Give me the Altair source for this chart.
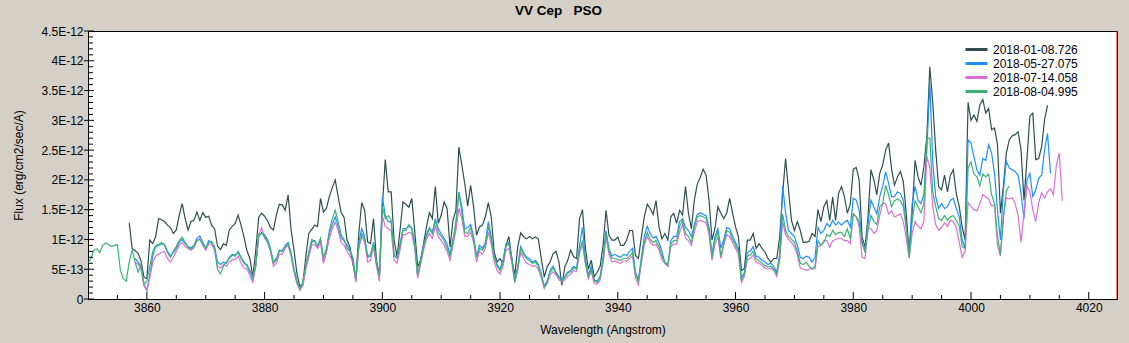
import altair as alt
import pandas as pd

# ---------------- data (flux in units of 1E-12 erg/cm2/sec/A) ----------------
SERIES = ["2018-01-08.726", "2018-05-27.075", "2018-07-14.058", "2018-08-04.995"]
COLORS = ["#2f4f4f", "#1e90ff", "#da70d6", "#3cb371"]

ROW_START = 3850.0   # first row starts here (Angstrom)
ROW_SPAN = 5.0       # each row covers 5 Angstrom
STEP = 0.5           # sampling step inside a row
N = None

DARK = [
    [N, N, N, N, N, N, N, N, N, N],
    [N, N, N, N, 1.28, 0.85, 0.81, 0.77, 0.64, 0.37],
    [0.34, 0.99, 0.93, 1.05, 1.35, 1.33, 1.30, 1.24, 1.20, 1.10],
    [1.16, 1.41, 1.60, 1.35, 1.16, 1.30, 1.32, 1.46, 1.32, 1.45],
    [1.37, 1.39, 1.24, 1.18, 0.89, 0.83, 0.93, 0.90, 1.16, 1.22],
    [1.27, 1.41, 1.24, 1.04, 0.81, 0.68, 0.37, 0.82, 1.37, 1.44],
    [1.39, 1.31, 1.20, 1.16, 1.41, 1.59, 1.58, 1.49, 1.75, 1.16],
    [0.82, 0.42, 0.21, 0.26, 0.71, 1.10, 1.17, 1.24, 1.22, 1.69],
    [1.46, 1.52, 1.72, 1.87, 2.00, 1.72, 1.45, 1.37, 0.99, 0.87],
    [0.59, 0.32, 1.10, 1.62, 1.49, 0.96, 0.93, 1.35, 0.65, 0.40],
    [1.55, 2.34, 1.80, 1.80, 0.99, 0.71, 1.15, 1.63, 1.59, 1.54],
    [1.69, 1.15, 0.54, 0.65, 0.93, 1.21, 1.45, 1.35, 1.89, 1.27],
    [1.41, 1.63, 1.52, 0.87, 1.32, 1.49, 2.55, 2.25, 1.94, 1.56],
    [1.91, 1.55, 1.07, 1.21, 1.24, 1.38, 1.62, 1.38, 0.79, 0.62],
    [0.68, 0.59, 0.90, 1.05, 0.65, 0.40, 0.87, 1.11, 1.05, 1.01],
    [1.05, 1.01, 1.04, 1.01, 0.68, 0.37, 0.54, 0.62, 0.76, 0.80],
    [0.62, 0.23, 0.54, 0.65, 0.82, 0.71, 0.68, 1.35, 1.50, 0.85],
    [0.50, 0.65, 0.37, 0.45, 0.55, 0.90, 1.49, 1.07, 0.99, 0.99],
    [1.04, 0.90, 0.90, 0.99, 1.15, 1.15, 0.73, 0.68, 1.04, 1.38],
    [1.59, 1.52, 1.42, 1.65, 1.21, 1.01, 1.10, 0.99, 1.38, 1.44],
    [1.27, 1.49, 1.41, 1.89, 1.44, 1.18, 1.66, 1.93, 2.04, 2.18],
    [2.08, 1.66, 0.99, 1.18, 1.55, 1.44, 1.35, 1.44, 1.69, 1.44],
    [1.21, 1.04, 0.48, 0.51, 0.99, 0.99, 1.10, 0.85, 0.93, 0.85],
    [0.79, 0.68, 0.62, 0.68, 0.68, 1.04, 1.77, 2.36, 1.83, 1.32],
    [1.15, 1.30, 1.15, 0.95, 0.95, 0.97, 1.10, 1.05, 1.50, 1.30],
    [1.55, 1.65, 1.32, 1.71, 1.32, 1.77, 1.89, 1.72, 1.44, 1.60],
    [2.18, 2.21, 2.00, 1.04, 0.87, 1.38, 2.17, 2.00, 1.75, 2.11],
    [2.25, 2.50, 2.62, 2.19, 1.91, 2.05, 2.14, 1.97, 1.44, 0.76],
    [1.44, 2.33, 2.05, 1.91, 2.22, 2.73, 3.90, 3.30, 2.50, 1.89],
    [1.83, 2.08, 1.80, 2.08, 2.17, 1.77, 1.55, 1.21, 0.99, 3.30],
    [3.00, 3.09, 2.98, 3.26, 3.35, 3.12, 3.20, 2.84, 2.87, 2.59],
    [1.44, 1.89, 2.45, 2.67, 2.74, 2.76, 2.81, 2.50, 1.66, 2.34],
    [3.07, 3.12, 2.34, 2.36, 2.56, 3.01, 3.25],
]

BLUE = [
    [N, N, N, N, N, N, N, N, N, N],
    [N, N, N, N, N, N, 0.68, 0.62, 0.55, 0.25],
    [0.14, 0.40, 0.72, 0.88, 0.90, 0.93, 0.92, 0.80, 0.72, 0.78],
    [0.85, 0.95, 1.00, 0.93, 0.88, 0.86, 0.90, 1.02, 1.06, 0.95],
    [0.85, 0.98, 0.95, 0.88, 0.62, 0.58, 0.62, 0.60, 0.70, 0.75],
    [0.72, 0.80, 0.70, 0.62, 0.55, 0.45, 0.32, 0.55, 1.05, 1.12],
    [1.08, 1.00, 0.85, 0.62, 0.68, 0.82, 0.80, 0.90, 0.95, 0.78],
    [0.50, 0.30, 0.15, 0.25, 0.55, 0.75, 0.95, 0.98, 0.88, 1.00],
    [0.62, 0.80, 1.10, 1.25, 1.38, 1.22, 1.02, 0.98, 0.90, 0.82],
    [0.68, 0.30, 0.95, 1.18, 1.05, 0.70, 0.72, 0.95, 0.62, 0.35],
    [1.72, 1.40, 1.30, 1.30, 0.75, 0.68, 0.90, 1.18, 1.18, 1.22],
    [1.20, 0.95, 0.38, 0.65, 0.90, 1.08, 1.20, 1.12, 1.35, 1.18],
    [1.10, 1.02, 0.92, 0.75, 1.00, 1.25, 1.80, 1.55, 1.18, 1.20],
    [1.25, 1.05, 0.72, 0.90, 0.85, 0.95, 1.30, 1.05, 0.72, 0.58],
    [0.50, 0.65, 0.92, 0.95, 0.70, 0.30, 0.55, 0.88, 0.78, 0.70],
    [0.68, 0.62, 0.65, 0.58, 0.42, 0.22, 0.30, 0.48, 0.55, 0.45],
    [0.38, 0.32, 0.38, 0.45, 0.48, 0.55, 0.52, 0.90, 1.20, 0.68],
    [0.40, 0.55, 0.32, 0.30, 0.38, 0.70, 1.15, 0.85, 0.72, 0.75],
    [0.72, 0.70, 0.75, 0.73, 0.80, 0.85, 0.45, 0.32, 0.70, 1.05],
    [1.22, 1.10, 1.02, 1.05, 0.95, 0.80, 0.60, 0.55, 0.98, 1.05],
    [1.05, 1.30, 1.35, 1.20, 1.15, 1.05, 1.25, 1.42, 1.45, 1.42],
    [1.40, 1.20, 0.75, 1.05, 1.18, 0.85, 1.00, 1.20, 1.18, 1.05],
    [0.95, 0.85, 0.35, 0.45, 0.78, 0.80, 0.88, 0.72, 0.70, 0.65],
    [0.62, 0.58, 0.60, 0.55, 0.45, 0.75, 1.90, 1.45, 1.15, 1.10],
    [1.05, 0.90, 0.70, 0.68, 0.72, 0.70, 0.62, 0.70, 1.20, 1.10],
    [1.15, 1.27, 1.21, 1.32, 1.24, 1.29, 1.24, 1.29, 1.32, 1.21],
    [1.69, 1.66, 1.49, 0.93, 0.82, 1.27, 1.66, 1.55, 1.43, 1.72],
    [1.89, 2.14, 1.94, 1.72, 1.72, 1.80, 1.77, 1.66, 1.21, 0.82],
    [1.60, 1.89, 1.66, 1.60, 1.77, 2.50, 3.65, 2.30, 1.72, 1.52],
    [1.60, 1.52, 1.55, 1.66, 1.69, 1.52, 1.38, 0.99, 0.85, 2.67],
    [2.62, 2.39, 2.17, 2.08, 2.36, 2.33, 2.59, 2.45, 2.11, 1.49],
    [0.99, 1.83, 2.31, 2.20, 2.17, 2.14, 2.08, 1.77, 1.35, 2.00],
    [2.11, 1.72, 1.83, 2.03, 2.08, 2.50, 2.78, 2.11],
]

PINK = [
    [N, N, N, N, N, N, N, N, N, N],
    [N, N, N, N, N, N, 0.62, 0.58, 0.50, 0.22],
    [0.15, 0.35, 0.62, 0.72, 0.75, 0.78, 0.80, 0.68, 0.62, 0.70],
    [0.80, 0.90, 0.95, 0.88, 0.85, 0.82, 0.86, 0.98, 1.02, 0.90],
    [0.82, 0.92, 0.92, 0.82, 0.55, 0.52, 0.58, 0.55, 0.62, 0.66],
    [0.66, 0.72, 0.60, 0.52, 0.50, 0.40, 0.28, 0.55, 1.08, 1.20],
    [1.02, 0.95, 0.80, 0.55, 0.60, 0.75, 0.75, 0.85, 0.90, 0.72],
    [0.45, 0.25, 0.16, 0.22, 0.50, 0.70, 0.90, 0.92, 0.85, 0.95],
    [0.60, 0.78, 1.02, 1.18, 1.29, 1.15, 0.95, 0.90, 0.80, 0.72],
    [0.62, 0.28, 0.85, 1.05, 0.95, 0.62, 0.65, 0.88, 0.55, 0.30],
    [1.40, 1.22, 1.18, 1.15, 0.65, 0.60, 0.82, 1.08, 1.08, 1.12],
    [1.10, 0.85, 0.35, 0.58, 0.82, 1.00, 1.10, 1.02, 1.22, 1.05],
    [0.98, 0.90, 0.80, 0.65, 0.90, 1.15, 1.52, 1.35, 1.05, 1.05],
    [1.12, 0.95, 0.62, 0.80, 0.75, 0.85, 1.12, 0.92, 0.62, 0.48],
    [0.42, 0.55, 0.82, 0.85, 0.60, 0.28, 0.48, 0.78, 0.68, 0.60],
    [0.58, 0.55, 0.56, 0.50, 0.36, 0.18, 0.26, 0.40, 0.46, 0.40],
    [0.32, 0.28, 0.32, 0.38, 0.42, 0.48, 0.46, 0.78, 0.92, 0.58],
    [0.34, 0.46, 0.26, 0.25, 0.32, 0.60, 1.05, 0.75, 0.62, 0.64],
    [0.62, 0.60, 0.64, 0.64, 0.68, 0.72, 0.36, 0.24, 0.60, 0.90],
    [1.05, 0.95, 0.90, 0.92, 0.82, 0.66, 0.60, 0.55, 0.88, 0.92],
    [0.92, 1.12, 1.25, 1.02, 0.98, 0.90, 1.12, 1.30, 1.32, 1.30],
    [1.28, 1.08, 0.65, 0.92, 1.05, 0.68, 0.90, 1.08, 1.05, 0.95],
    [0.85, 0.75, 0.28, 0.38, 0.66, 0.68, 0.74, 0.62, 0.60, 0.56],
    [0.52, 0.50, 0.52, 0.48, 0.38, 0.65, 1.30, 1.08, 1.00, 0.95],
    [0.88, 0.74, 0.52, 0.50, 0.48, 0.50, 0.52, 0.50, 0.88, 0.90],
    [0.98, 0.98, 0.87, 0.98, 1.00, 1.02, 1.02, 0.98, 0.98, 0.93],
    [1.43, 1.38, 1.22, 0.70, 0.68, 1.20, 1.18, 1.10, 1.15, 1.40],
    [1.60, 1.60, 1.43, 1.48, 1.38, 1.40, 1.43, 1.30, 1.02, 0.68],
    [1.10, 1.30, 1.22, 1.18, 1.30, 2.40, 2.20, 1.55, 1.25, 1.15],
    [1.20, 1.28, 1.22, 1.32, 1.30, 1.20, 0.95, 0.70, 0.80, 1.62],
    [1.55, 1.50, 1.48, 1.60, 1.75, 1.72, 1.68, 1.56, 1.58, 0.90],
    [0.72, 1.40, 1.70, 1.68, 1.70, 1.60, 1.40, 0.95, 1.45, 1.90],
    [1.80, 1.50, 1.30, 1.62, 1.78, 1.70, 1.80, 1.85, 1.75, 2.25],
    [2.45, 1.65],
]

GREEN = [
    [0.60, 0.68, 0.82, 0.84, 0.78, 0.90, 0.94, 0.91, 0.88, 0.90],
    [0.91, 0.48, 0.34, 0.30, 0.62, 0.83, 0.62, 0.45, 0.58, 0.25],
    [0.30, 0.55, 0.80, 0.90, 0.92, 0.95, 0.90, 0.78, 0.70, 0.80],
    [0.88, 0.98, 1.04, 0.95, 0.87, 0.84, 0.88, 0.98, 1.00, 0.92],
    [0.85, 0.95, 0.97, 0.85, 0.50, 0.42, 0.55, 0.62, 0.68, 0.73],
    [0.74, 0.78, 0.68, 0.60, 0.58, 0.48, 0.38, 0.58, 1.08, 1.10],
    [1.05, 0.95, 0.82, 0.60, 0.65, 0.80, 0.82, 0.88, 0.92, 0.75],
    [0.48, 0.28, 0.18, 0.28, 0.58, 0.78, 1.00, 0.97, 0.90, 1.02],
    [0.70, 0.85, 1.15, 1.35, 1.49, 1.30, 1.08, 1.00, 0.85, 0.80],
    [0.70, 0.35, 0.88, 1.10, 1.00, 0.72, 0.75, 0.92, 0.60, 0.38],
    [1.55, 1.35, 1.40, 1.32, 0.72, 0.70, 0.92, 1.15, 1.15, 1.25],
    [1.18, 0.90, 0.40, 0.62, 0.88, 1.05, 1.18, 1.10, 1.32, 1.12],
    [1.05, 0.98, 0.85, 0.72, 0.95, 1.30, 1.78, 1.45, 1.12, 1.10],
    [1.20, 1.00, 0.70, 0.85, 0.82, 0.90, 1.22, 1.00, 0.70, 0.55],
    [0.48, 0.62, 0.90, 0.92, 0.68, 0.28, 0.52, 0.85, 0.74, 0.68],
    [0.64, 0.60, 0.62, 0.55, 0.40, 0.20, 0.28, 0.45, 0.52, 0.43],
    [0.36, 0.30, 0.36, 0.43, 0.46, 0.52, 0.50, 0.80, 0.98, 0.62],
    [0.38, 0.50, 0.30, 0.28, 0.36, 0.65, 1.10, 0.80, 0.68, 0.68],
    [0.66, 0.65, 0.68, 0.68, 0.72, 0.78, 0.42, 0.30, 0.65, 0.95],
    [1.12, 1.00, 0.95, 0.98, 0.88, 0.72, 0.62, 0.58, 0.92, 0.98],
    [0.98, 1.22, 1.32, 1.10, 1.05, 0.95, 1.20, 1.38, 1.40, 1.38],
    [1.35, 1.15, 0.70, 1.00, 1.12, 0.72, 0.95, 1.15, 1.12, 1.00],
    [0.90, 0.80, 0.32, 0.42, 0.72, 0.74, 0.80, 0.68, 0.64, 0.60],
    [0.56, 0.54, 0.55, 0.50, 0.42, 0.70, 1.43, 1.15, 1.05, 1.00],
    [0.95, 0.80, 0.60, 0.58, 0.62, 0.55, 0.50, 0.55, 0.98, 0.90],
    [0.95, 1.08, 1.05, 1.15, 1.08, 1.12, 1.12, 1.05, 1.18, 1.00],
    [1.43, 1.38, 1.30, 0.95, 0.78, 1.15, 1.40, 1.30, 1.25, 1.55],
    [1.60, 1.91, 1.75, 1.55, 1.65, 1.68, 1.65, 1.55, 1.20, 0.70],
    [1.30, 1.65, 1.55, 1.45, 1.60, 2.70, 2.70, 1.80, 1.55, 1.35],
    [1.32, 1.40, 1.32, 1.38, 1.40, 1.32, 1.22, 0.88, 0.85, 2.20],
    [2.30, 2.10, 2.05, 1.90, 2.10, 2.05, 2.10, 1.75, 1.60, 1.05],
    [0.75, 1.35, 1.82, 1.90],
]

X_MAJOR = [3860, 3880, 3900, 3920, 3940, 3960, 3980, 4000, 4020]
X_MINOR = [3855, 3865, 3870, 3875, 3885, 3890, 3895, 3905, 3910, 3915, 3925, 3930,
           3935, 3945, 3950, 3955, 3965, 3970, 3975, 3985, 3990, 3995, 4005, 4010, 4015]
Y_MAJOR = [0, 0.5, 1, 1.5, 2, 2.5, 3, 3.5, 4, 4.5]
Y_MINOR = [i / 10 for i in range(1, 45) if i % 5 != 0]

# ---------------- build the table ----------------
rows = []
for name, table in zip(SERIES, [DARK, BLUE, PINK, GREEN]):
    for r, row in enumerate(table):
        for c, v in enumerate(row):
            if v is not None:
                rows.append({"series": name,
                             "wl": ROW_START + ROW_SPAN * r + STEP * c,
                             "flux": v})
df = pd.DataFrame(rows)

W, H = 1029, 268
FONT = "Liberation Sans"
NB = "\u00a0"

x_scale = alt.Scale(domain=[3850, 4024.8], nice=False, zero=False)
y_scale = alt.Scale(domain=[0, 4.5], nice=False)

X_AXIS = alt.Axis(values=X_MAJOR, title="Wavelength (Angstrom)", format="d",
                  labelOverlap=False, labelPadding=3, titleY=30, titleBaseline="middle")
Y_AXIS = alt.Axis(values=Y_MAJOR, title="Flux (erg/cm2/sec/A)", labelPadding=5,
                  labelOverlap=False, labelFlush=False,
                  labelExpr="datum.value == 0 ? '0' : (datum.value < 1 ? '5E-13' : toString(datum.value) + 'E-12')",
                  titleX=-70, titleY=H / 2, titleAlign="center", titleBaseline="middle")

lines = alt.Chart(df).mark_line(strokeWidth=1.2, clip=True).encode(
    x=alt.X("wl:Q", scale=x_scale, axis=X_AXIS),
    y=alt.Y("flux:Q", scale=y_scale, axis=Y_AXIS),
    color=alt.Color("series:N",
                    scale=alt.Scale(domain=SERIES, range=COLORS),
                    legend=alt.Legend(title=None, orient="none", legendX=882, legendY=12,
                                      symbolType="M-2.2,0L2.2,0", symbolSize=100,
                                      symbolStrokeWidth=3, labelFont=FONT, labelFontSize=12,
                                      labelColor="black", labelOffset=10, rowPadding=1,
                                      padding=0)),
)

x_minor = alt.Chart(pd.DataFrame({"t": X_MINOR})).mark_rule(color="black").encode(
    x=alt.X("t:Q", scale=x_scale, axis=X_AXIS), y=alt.value(H), y2=alt.value(H - 4))
x_major = alt.Chart(pd.DataFrame({"t": X_MAJOR})).mark_rule(color="black").encode(
    x=alt.X("t:Q", scale=x_scale, axis=X_AXIS), y=alt.value(H), y2=alt.value(H - 7))
y_minor = alt.Chart(pd.DataFrame({"t": Y_MINOR})).mark_rule(color="black").encode(
    y=alt.Y("t:Q", scale=y_scale, axis=Y_AXIS), x=alt.value(0), x2=alt.value(5))
y_major = alt.Chart(pd.DataFrame({"t": Y_MAJOR})).mark_rule(color="black").encode(
    y=alt.Y("t:Q", scale=y_scale, axis=Y_AXIS), x=alt.value(-4), x2=alt.value(6))
right_edge = alt.Chart(pd.DataFrame({"t": [0]})).mark_rule(color="#ff0000").encode(
    x=alt.value(W), y=alt.value(0), y2=alt.value(H))

chart = alt.layer(lines, x_minor, x_major, y_minor, y_major, right_edge).properties(
    width=W, height=H,
    padding={"left": 88, "top": 31, "right": 12, "bottom": 44},
    autosize=alt.AutoSizeParams(type="none"),
    title=alt.TitleParams("VV" + NB + "Cep" + NB * 3 + "PSO", font=FONT, fontSize=13.5,
                          fontWeight="bold", color="black", anchor="middle", dx=-44,
                          offset=8),
).configure(background="#d4d0c8").configure_view(
    fill="white", stroke="black", strokeWidth=1
).configure_axis(
    labelFont=FONT, labelFontSize=12, labelColor="black",
    titleFont=FONT, titleFontSize=12, titleFontWeight="normal", titleColor="black",
    domainColor="black", grid=False, ticks=False
)

chart.save("out.html", embed_options={"renderer": "svg", "actions": False})
